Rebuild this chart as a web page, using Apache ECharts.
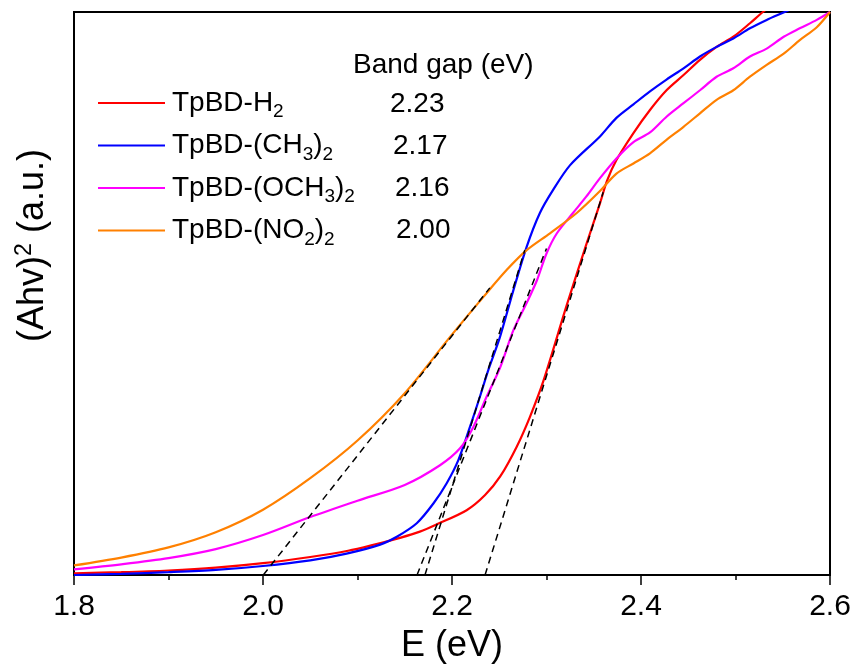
<!DOCTYPE html>
<html>
<head>
<meta charset="utf-8">
<script src="https://cdn.jsdelivr.net/npm/echarts@6/dist/echarts.min.js"></script>
<style>html,body{margin:0;padding:0;background:#fff;}#c{width:859px;height:670px;}</style>
</head>
<body>
<div id="c"></div>
<script>
// ---- data (E in eV, (Ahv)^2 in arbitrary units 0-100) ----
const xTicks = [1.8, 2.0, 2.2, 2.4, 2.6];

const h2E = [1.80, 1.85, 1.90, 1.95, 2.00, 2.05, 2.09, 2.12, 2.145, 2.166, 2.184, 2.2155, 2.235, 2.251, 2.2685, 2.2825, 2.297, 2.321, 2.3425, 2.3566, 2.364, 2.374, 2.392, 2.4095, 2.427, 2.445, 2.4624, 2.48, 2.4977, 2.5153, 2.529, 2.545];
const h2Y = [0.3, 0.5, 0.8, 1.3, 2.1, 3.2, 4.3, 5.5, 6.6, 7.7, 9.0, 11.5, 14.2, 17.5, 22.8, 28.1, 34.6, 47.7, 58.9, 66.0, 70.0, 73.7, 78.5, 82.6, 86.1, 88.8, 91.5, 93.8, 95.6, 98.0, 100, 102];

const ch3E = [1.80, 1.85, 1.90, 1.95, 2.00, 2.05, 2.0885, 2.124, 2.1416, 2.1627, 2.1803, 2.1944, 2.2067, 2.219, 2.2296, 2.2384, 2.2508, 2.265, 2.279, 2.293, 2.307, 2.325, 2.3566, 2.374, 2.392, 2.4095, 2.427, 2.445, 2.4624, 2.48, 2.4977, 2.5153, 2.533, 2.552, 2.565];
const ch3Y = [0.0, 0.2, 0.5, 0.9, 1.6, 2.6, 3.8, 5.4, 6.8, 9.2, 12.7, 16.3, 20.4, 26.3, 31.7, 36.4, 42.3, 50.6, 58.3, 64.3, 68.4, 72.8, 77.9, 81.2, 83.6, 85.9, 88.0, 90.0, 92.1, 93.8, 95.3, 97.1, 98.6, 100, 101];

const och3E = [1.80, 1.85, 1.90, 1.95, 2.00, 2.05, 2.10, 2.15, 2.1873, 2.2085, 2.2226, 2.2367, 2.2508, 2.265, 2.279, 2.29, 2.30, 2.311, 2.328, 2.342, 2.3566, 2.374, 2.392, 2.4095, 2.427, 2.445, 2.4624, 2.48, 2.4977, 2.5153, 2.533, 2.551, 2.568, 2.586, 2.60];
const och3Y = [1.0, 1.9, 3.0, 4.6, 7.1, 10.3, 13.2, 16.0, 19.5, 22.5, 26.3, 31.7, 36.8, 43.5, 48.3, 52.4, 57.1, 60.7, 64.3, 67.2, 70.5, 74.0, 76.9, 78.6, 81.4, 83.8, 86.1, 88.5, 90.0, 92.1, 93.5, 95.6, 97.1, 98.6, 100];

const no2E = [1.80, 1.85, 1.90, 1.95, 2.00, 2.05, 2.10, 2.15, 2.198, 2.2333, 2.258, 2.279, 2.3037, 2.332, 2.3566, 2.374, 2.392, 2.4095, 2.427, 2.445, 2.4624, 2.48, 2.4977, 2.5153, 2.533, 2.551, 2.568, 2.586, 2.60];
const no2Y = [1.7, 3.1, 4.9, 7.6, 11.6, 17.2, 23.9, 32.3, 42.3, 49.4, 54.2, 57.7, 60.7, 64.3, 68.2, 71.3, 73.1, 74.9, 77.3, 79.6, 82.0, 84.4, 86.1, 88.5, 90.6, 92.6, 95.0, 97.3, 100];

// tangent (Tauc) lines: [E start, E end], [Y start, Y end]
const tanH2E = [2.235, 2.36],  tanH2Y = [0, 68];
const tanCH3E = [2.1714, 2.277], tanCH3Y = [0, 57.7];
const tanOCH3E = [2.163, 2.30], tanOCH3Y = [0, 58];
const tanNO2E = [2.0003, 2.24], tanNO2Y = [0, 51];

const names = ['TpBD-H2', 'TpBD-(CH3)2', 'TpBD-(OCH3)2', 'TpBD-(NO2)2'];
const legendRich = ['{n|TpBD-H}{s|2}', '{n|TpBD-(CH}{s|3}{n|)}{s|2}', '{n|TpBD-(OCH}{s|3}{n|)}{s|2}', '{n|TpBD-(NO}{s|2}{n|)}{s|2}'];
const bandGaps = ['2.23', '2.17', '2.16', '2.00'];
const colors = ['#ff0000', '#0000ff', '#ff00ff', '#ff8000'];

const FONT = '"Liberation Sans", Arial, sans-serif';
const pairs = (xs, ys) => xs.map((x, i) => [x, ys[i]]);

const curveData = [pairs(h2E, h2Y), pairs(ch3E, ch3Y), pairs(och3E, och3Y), pairs(no2E, no2Y)];
const tanData = [pairs(tanH2E, tanH2Y), pairs(tanCH3E, tanCH3Y), pairs(tanOCH3E, tanOCH3Y), pairs(tanNO2E, tanNO2Y)];

const series = [];
curveData.forEach((d, i) => {
  series.push({
    name: names[i], type: 'line', data: d, symbol: 'none', smooth: 0.3,
    lineStyle: { color: colors[i], width: 2.2 }, itemStyle: { color: colors[i] }, z: 2
  });
});
tanData.forEach((d, i) => {
  series.push({
    name: 'tan' + i, type: 'line', data: d, symbol: 'none',
    lineStyle: { color: '#000', width: 1.5, type: [7, 5] }, z: 3, silent: true
  });
});

const chart = echarts.init(document.getElementById('c'), null, { renderer: 'canvas' });
chart.setOption({
  animation: false,
  backgroundColor: '#fff',
  grid: { left: 74, right: 29, top: 12, bottom: 95, show: true, borderColor: '#000', borderWidth: 2, backgroundColor: 'transparent' },
  xAxis: {
    type: 'value', min: 1.8, max: 2.6, interval: 0.2,
    name: 'E (eV)', nameLocation: 'middle', nameGap: 53,
    nameTextStyle: { fontFamily: FONT, fontSize: 36, color: '#000' },
    axisLine: { show: true, lineStyle: { color: '#000', width: 2 } },
    axisTick: { show: true, inside: false, length: 10, lineStyle: { color: '#000', width: 1.5 } },
    minorTick: { show: true, splitNumber: 2, length: 5, lineStyle: { color: '#000', width: 1.5 } },
    axisLabel: { fontFamily: FONT, fontSize: 30, color: '#000', margin: 17, formatter: v => v.toFixed(1) },
    splitLine: { show: false }
  },
  yAxis: {
    type: 'value', min: 0, max: 100,
    name: '{n|(Ahv)}{p|2}{n| (a.u.)}', nameLocation: 'middle', nameGap: 20,
    nameTextStyle: {
      fontFamily: FONT, color: '#000', padding: [0, 0, 0, 96],
      rich: {
        n: { fontFamily: FONT, fontSize: 36, lineHeight: 40, color: '#000' },
        p: { fontFamily: FONT, fontSize: 23, padding: [0, 0, 18, 0], color: '#000' }
      }
    },
    axisLine: { show: true, lineStyle: { color: '#000', width: 2 } },
    axisTick: { show: false },
    axisLabel: { show: false },
    splitLine: { show: false }
  },
  legend: {
    data: names, orient: 'vertical', left: 98, top: 89, padding: 0,
    itemWidth: 67, itemHeight: 14, itemGap: 10,
    icon: 'path://M0,0H67V2.2H0Z',
    formatter: name => legendRich[names.indexOf(name)],
    textStyle: {
      fontFamily: FONT, color: '#000', padding: [0, 0, 0, 2],
      rich: {
        n: { fontFamily: FONT, fontSize: 28, lineHeight: 40, color: '#000' },
        s: { fontFamily: FONT, fontSize: 19, padding: [18, 0, 0, 0], color: '#000' }
      }
    }
  },
  graphic: [
    { type: 'text', x: 353, y: 65, style: { text: 'Band gap (eV)', font: '28px ' + FONT, fill: '#000', verticalAlign: 'middle' } }
  ].concat(bandGaps.map((g, i) => ({
    type: 'text', x: [390, 393, 395, 396][i], y: 104 + 42 * i,
    style: { text: g, font: '28px ' + FONT, fill: '#000', verticalAlign: 'middle' }
  }))),
  series: series
});
</script>
</body>
</html>
